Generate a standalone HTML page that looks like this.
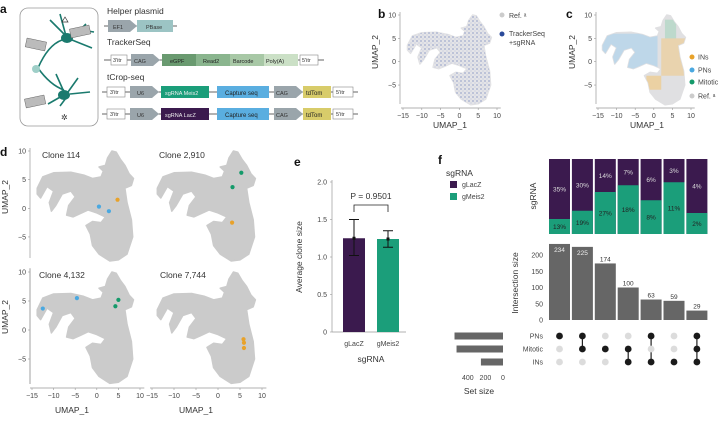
<!DOCTYPE html>
<html><head><meta charset="utf-8"><style>
body{margin:0;background:#fff;width:722px;height:419px;overflow:hidden}
svg{font-family:"Liberation Sans",sans-serif}
.t{font-size:7px;fill:#444}
.l{font-size:8.5px;fill:#333}
.p{font-size:12px;font-weight:bold;fill:#111}
</style></head><body>
<svg id="fig" width="722" height="419" viewBox="0 0 722 419" xmlns="http://www.w3.org/2000/svg">
<defs>
<pattern id="bluedots" width="4" height="4" patternUnits="userSpaceOnUse"><rect width="4" height="4" fill="#e4e4e8"/><circle cx="1" cy="1" r="0.6" fill="#3a55a8"/><circle cx="3" cy="3" r="0.4" fill="#6a80c0"/></pattern>
</defs>
<g id="pa">
<text class="p" x="0" y="13">a</text>
<rect x="20" y="8" width="78" height="118" rx="8" fill="none" stroke="#999" stroke-width="0.8"/>
<g fill="none" stroke="#1a7a6e" stroke-width="1.6">
<path d="M38 68 Q48 45 62 40"/><path d="M38 68 Q50 85 64 90"/>
<path d="M66 36 L50 20 M66 36 L60 14 M68 36 L80 30 L94 32 M72 40 L92 48 M80 30 L86 24"/>
<path d="M62 96 L48 104 M64 92 L56 74 M68 92 L78 78 M70 94 L90 92 M66 98 L60 106"/>
</g>
<circle cx="36" cy="69" r="4" fill="#9fcfc8"/>
<ellipse cx="67" cy="38" rx="6" ry="5" fill="#1a7a6e"/><ellipse cx="64" cy="95" rx="6" ry="5" fill="#1a7a6e"/>
<path d="M62 22 l3 -5 l3 5z" fill="none" stroke="#333" stroke-width="0.7"/>
<text x="61" y="120" font-size="8" fill="#333">✲</text>
<g fill="#bbb" stroke="#555" stroke-width="0.4">
<rect x="70" y="27" width="20" height="9" transform="rotate(-12 80 31)"/>
<rect x="26" y="40" width="20" height="9" transform="rotate(12 36 44)"/>
<rect x="25" y="97" width="20" height="9" transform="rotate(-12 35 101)"/>
</g>
<text class="l" x="107" y="14">Helper plasmid</text>
<line x1="104" y1="26" x2="177" y2="26" stroke="#333" stroke-width="0.8"/>
<path d="M108 20 h22 l7 6 l-7 6 h-22z" fill="#9aa5ab"/><text x="113" y="29" font-size="5.5" fill="#333">EF1</text>
<rect x="137" y="20" width="36" height="12" fill="#9cc4c4"/><text x="146" y="29" font-size="5.5" fill="#333">PBase</text>
<text class="l" x="107" y="45">TrackerSeq</text>
<line x1="104" y1="60" x2="324" y2="60" stroke="#333" stroke-width="0.8"/>
<rect x="111" y="55" width="16" height="10" fill="#fff" stroke="#888" stroke-width="0.6"/><text x="113" y="62" font-size="5.5" fill="#333">3'itr</text>
<path d="M131 54 h22 l7 6 l-7 6 h-22z" fill="#9aa5ab"/><text x="134" y="63" font-size="5.5" fill="#333">CAG</text>
<rect x="162" y="54" width="34" height="12" fill="#6a9a70"/><text x="170" y="63" font-size="5.5" fill="#222">eGPF</text>
<rect x="196" y="54" width="34" height="12" fill="#8ab58e"/><text x="203" y="63" font-size="5.5" fill="#222">Read2</text>
<rect x="230" y="54" width="34" height="12" fill="#a8c8a6"/><text x="233" y="63" font-size="5.5" fill="#222">Barcode</text>
<rect x="264" y="54" width="34" height="12" fill="#cbe0c6"/><text x="266" y="63" font-size="5.5" fill="#222">Poly(A)</text>
<rect x="300" y="55" width="18" height="10" fill="#fff" stroke="#888" stroke-width="0.6"/><text x="302" y="62" font-size="5.5" fill="#333">5'itr</text>
<text class="l" x="107" y="80">tCrop-seq</text>
<g id="row3">
<line x1="102" y1="92" x2="358" y2="92" stroke="#333" stroke-width="0.8"/>
<rect x="107" y="87" width="18" height="10" fill="#fff" stroke="#888" stroke-width="0.6"/><text x="110" y="94" font-size="5.5" fill="#333">3'itr</text>
<path d="M130 86 h22 l7 6 l-7 6 h-22z" fill="#9aa5ab"/><text x="137" y="95" font-size="5.5" fill="#333">U6</text>
<rect x="161" y="86" width="48" height="12" fill="#1b9e7a"/><text x="165" y="95" font-size="5.5" fill="#eee">sgRNA Meis2</text>
<rect x="217" y="86" width="52" height="12" fill="#5aaee0"/><text x="225" y="95" font-size="6" fill="#222">Capture seq</text>
<path d="M274 86 h22 l7 6 l-7 6 h-22z" fill="#9aa5ab"/><text x="276" y="95" font-size="5.5" fill="#333">CAG</text>
<rect x="303" y="86" width="28" height="12" fill="#d8cc6a"/><text x="306" y="95" font-size="6" fill="#222">tdTom</text>
<rect x="333" y="87" width="20" height="10" fill="#fff" stroke="#888" stroke-width="0.6"/><text x="336" y="94" font-size="5.5" fill="#333">5'itr</text>
</g>
<g transform="translate(0,22)">
<line x1="102" y1="92" x2="358" y2="92" stroke="#333" stroke-width="0.8"/>
<rect x="107" y="87" width="18" height="10" fill="#fff" stroke="#888" stroke-width="0.6"/><text x="110" y="94" font-size="5.5" fill="#333">3'itr</text>
<path d="M130 86 h22 l7 6 l-7 6 h-22z" fill="#9aa5ab"/><text x="137" y="95" font-size="5.5" fill="#333">U6</text>
<rect x="161" y="86" width="48" height="12" fill="#3b1a4e"/><text x="165" y="95" font-size="5.5" fill="#eee">sgRNA LacZ</text>
<rect x="217" y="86" width="52" height="12" fill="#5aaee0"/><text x="225" y="95" font-size="6" fill="#222">Capture seq</text>
<path d="M274 86 h22 l7 6 l-7 6 h-22z" fill="#9aa5ab"/><text x="276" y="95" font-size="5.5" fill="#333">CAG</text>
<rect x="303" y="86" width="28" height="12" fill="#d8cc6a"/><text x="306" y="95" font-size="6" fill="#222">tdTom</text>
<rect x="333" y="87" width="20" height="10" fill="#fff" stroke="#888" stroke-width="0.6"/><text x="336" y="94" font-size="5.5" fill="#333">5'itr</text>
</g>
</g>
<g id="dyn"></g>
</svg>
<script>
// ---- data ----
const umapShapeX=[-13.8,-12.5,-10,-6,-3,-1,1,1.5,0.5,2,2.5,3.5,4.5,5.5,6.5,7.5,8.5,8,6.5,7,8,8.3,7,5,3,0.5,-1,-1.5,-2.5,-1,1,2,0,-2,-4,-5.5,-7,-6.5,-5,-6,-8,-9.5,-10.5,-11,-10,-11.5,-13,-13.8];
const umapShapeY=[3.5,5.5,6.2,6.3,5.8,5.2,5.5,6.5,7.2,7.5,8.8,10,9.8,8.5,7.5,6,5.2,4,3.5,1,-2,-5,-8,-9,-9.2,-8,-6.5,-4.5,-3,-2.3,-2.5,-1.5,-0.8,-0.3,-1,-1.5,-1.2,0.5,2,3,2.5,0.5,-0.5,1,3,3.8,1.8,2.5];
const umapTicksX=[-15,-10,-5,0,5,10];
const umapTicksY=[-5,0,5,10];
const cloneNames=["Clone 114","Clone 2,910","Clone 4,132","Clone 7,744"];
const cloneX=[[0.5,2.8,4.8],[5.3,3.3,3.2],[-12.5,-4.6,5,4.3],[5.8,5.9,5.9]];
const cloneY=[[0.3,-0.5,1.5],[6.2,3.7,-2.5],[3.7,5.5,5.2,4.1],[-1.6,-2.2,-3.1]];
const cloneType=[["PN","PN","IN"],["Mit","Mit","IN"],["PN","PN","Mit","Mit"],["IN","IN","IN"]];
const eCats=["gLacZ","gMeis2"];
const eMeans=[1.25,1.24];
const eLow=[1.02,1.13];
const eHigh=[1.5,1.35];
const eTicks=[0,0.5,1.0,1.5,2.0];
const interSizes=[234,225,174,100,63,59,29];
const interTicks=[0,50,100,150,200];
const setNames=["PNs","Mitotic","INs"];
const membership=[[1,0,0],[1,1,0],[0,1,0],[0,1,1],[1,0,1],[0,0,1],[1,1,1]];
const pctLacZ=[35,30,14,7,6,3,4];
const pctMeis2=[13,19,27,18,8,11,2];
const greenShare=[0.2,0.31,0.56,0.65,0.45,0.69,0.28];
const setSizeTicks=[400,200,0];

const NS="http://www.w3.org/2000/svg";
const root=document.getElementById('dyn');
function mk(tag,attrs,parent,txt){const e=document.createElementNS(NS,tag);for(const k in attrs)e.setAttribute(k,attrs[k]);if(txt!==undefined)e.textContent=txt;(parent||root).appendChild(e);return e;}
const typeCol={PN:"#4aa8e0",IN:"#e8a22a",Mit:"#149a6a"};

function umapPanel(x0,sx,y0,sy,fill){
  const X=u=>x0+(u+15)*sx, Y=v=>y0+(10-v)*sy;
  let d="M"+umapShapeX.map((u,i)=>X(u).toFixed(1)+" "+Y(umapShapeY[i]).toFixed(1)).join(" L")+"Z";
  const g=mk('g',{});
  
  
  const p=mk('path',{d:d,fill:fill,stroke:fill,'stroke-width':1.5,'stroke-linejoin':'round'},g);
  
  
  return {X,Y,g,d};
}
function axes(X,Y,xAxisY,yAxisX,showX,showY,ylab,xlab,xlabY){
  if(showY){
    mk('line',{x1:yAxisX,y1:Y(10)-3,x2:yAxisX,y2:xAxisY-4,stroke:'#999','stroke-width':0.7});
    umapTicksY.forEach(v=>{mk('text',{class:'t',x:yAxisX-4,y:Y(v)+2.5,'text-anchor':'end'},null,v===-5?'−5':v);mk('line',{x1:yAxisX-2,x2:yAxisX,y1:Y(v),y2:Y(v),stroke:'#999','stroke-width':0.6});});
  }
  if(showX){
    mk('line',{x1:X(-15)-2,y1:xAxisY,x2:X(11),y2:xAxisY,stroke:'#999','stroke-width':0.7});
    umapTicksX.forEach(u=>{mk('line',{x1:X(u),x2:X(u),y1:xAxisY,y2:xAxisY+2,stroke:'#999','stroke-width':0.6});mk('text',{class:'t',x:X(u),y:xAxisY+10,'text-anchor':'middle'},null,u<0?'−'+(-u):u);});
  }
  if(ylab){const t=mk('text',{class:'l',x:ylab[0],y:ylab[1],'text-anchor':'middle',transform:`rotate(-90 ${ylab[0]} ${ylab[1]})`},null,'UMAP_2');}
  if(xlab){const t=mk('text',{class:'l',x:xlab,y:xlabY,'text-anchor':'middle'},null,'UMAP_1');}
}
// panel b
mk('text',{class:'p',x:378,y:18},null,'b');
let b=umapPanel(403,3.76,15,4.67,'#e2e2e4');
mk('path',{d:b.d,fill:'url(#bluedots)',opacity:0.8},b.g);
axes(b.X,b.Y,108,400,true,true,[378,52],450,128);
mk('circle',{cx:502,cy:15,r:2.5,fill:'#ccc'});mk('text',{class:'t',x:509,y:18,'font-size':7.5},null,'Ref. ᵃ');
mk('circle',{cx:502,cy:34,r:2.5,fill:'#2a4a9a'});mk('text',{class:'t',x:509,y:36},null,'TrackerSeq');mk('text',{class:'t',x:509,y:45},null,'+sgRNA');
// panel c
mk('text',{class:'p',x:566,y:18},null,'c');
let c=umapPanel(598,3.72,15,4.67,'#e0e0e2');
const cp=mk('clipPath',{id:'cclip'});mk('path',{d:c.d},cp);
const cg=mk('g',{'clip-path':'url(#cclip)'});
mk('rect',{x:c.X(-15),y:c.Y(6),width:c.X(1)-c.X(-15),height:c.Y(-1.5)-c.Y(6),fill:'#a6d0ee',opacity:0.6},cg);
mk('rect',{x:c.X(2),y:c.Y(5),width:c.X(8.5)-c.X(2),height:c.Y(-3)-c.Y(5),fill:'#f2c67a',opacity:0.5},cg);
mk('rect',{x:c.X(-2),y:c.Y(-3),width:c.X(2)-c.X(-2),height:c.Y(-6)-c.Y(-3),fill:'#f2c67a',opacity:0.6},cg);
mk('rect',{x:c.X(3),y:c.Y(9),width:c.X(6)-c.X(3),height:c.Y(5)-c.Y(9),fill:'#9ad2b6',opacity:0.5},cg);
axes(c.X,c.Y,108,596,true,true,[575,52],647,128);
[["INs","#e8a22a",57],["PNs","#4aa8e0",70],["Mitotic","#149a6a",82],["Ref. ᵃ","#ccc",96]].forEach(r=>{mk('circle',{cx:692,cy:r[2],r:2.5,fill:r[1]});mk('text',{class:'t',x:698,y:r[2]+2.5,'font-size':7.5},null,r[0]);});
// panel d
mk('text',{class:'p',x:0,y:156},null,'d');
const dPos=[[32,4.32,151,5.73],[152,4.4,151,5.73],[32,4.32,272,5.8],[152,4.4,272,5.8]];
const tpos=[[42,158],[159,158],[39,278],[160,278]];
dPos.forEach((q,i)=>{
  const pnl=umapPanel(q[0],q[1],q[2],q[3],'#cbcbcb');
  const t=mk('text',{class:'l',x:tpos[i][0],y:tpos[i][1]},null,cloneNames[i]);
  
  
  cloneX[i].forEach((u,j)=>{const d=mk('circle',{cx:pnl.X(u),cy:pnl.Y(cloneY[i][j]),r:2.1,fill:typeCol[cloneType[i][j]]});
    
    });
  axes(pnl.X,pnl.Y,388,30,i>=2,i%2===0,i%2===0?[8,i<2?197:317]:null,i>=2?(i===2?72:196):null,413);
});
mk('line',{x1:30,y1:258,x2:30,y2:268,stroke:'#fff','stroke-width':2});
// panel e
mk('text',{class:'p',x:294,y:166},null,'e');
const eY=v=>332-v*75, eX=[354,388];
mk('line',{x1:332,y1:180,x2:332,y2:332,stroke:'#999','stroke-width':0.7});
mk('line',{x1:332,y1:332,x2:406,y2:332,stroke:'#999','stroke-width':0.7});
eTicks.forEach(v=>{mk('line',{x1:330,x2:332,y1:eY(v),y2:eY(v),stroke:'#999','stroke-width':0.6});mk('text',{class:'t',x:327,y:eY(v)+2.5,'text-anchor':'end'},null,v===0?'0':v.toFixed(1));});
const ecol=['#3b1a4e','#1b9e7a'];
eCats.forEach((cat,i)=>{
  const r=mk('rect',{x:eX[i]-11,y:eY(eMeans[i]),width:22,height:eY(0)-eY(eMeans[i]),fill:ecol[i]});
  
  
  mk('line',{x1:eX[i],x2:eX[i],y1:eY(eHigh[i]),y2:eY(eLow[i]),stroke:'#111','stroke-width':1});
  mk('line',{x1:eX[i]-5,x2:eX[i]+5,y1:eY(eHigh[i]),y2:eY(eHigh[i]),stroke:'#111','stroke-width':1});
  mk('line',{x1:eX[i]-5,x2:eX[i]+5,y1:eY(eLow[i]),y2:eY(eLow[i]),stroke:'#111','stroke-width':1});
  mk('rect',{x:eX[i]-1.5,y:eY(eMeans[i])-1.5,width:3,height:3,fill:'#111'});
  mk('text',{class:'t',x:eX[i],y:346,'text-anchor':'middle'},null,cat);
});
mk('path',{d:'M354 212 V205 H388 V212',fill:'none',stroke:'#222','stroke-width':0.8});
mk('text',{class:'l',x:371,y:199,'text-anchor':'middle'},null,'P = 0.9501');
const ey=mk('text',{class:'l',x:302,y:257,'text-anchor':'middle',transform:'rotate(-90 302 257)'},null,'Average clone size');


mk('text',{class:'l',x:371,y:362,'text-anchor':'middle'},null,'sgRNA');
// panel f
mk('text',{class:'p',x:438,y:164},null,'f');
mk('text',{class:'l',x:446,y:176},null,'sgRNA');
mk('rect',{x:450,y:181,width:7,height:7,fill:'#3b1a4e'});mk('text',{class:'t',x:462,y:187},null,'gLacZ');
mk('rect',{x:450,y:193,width:7,height:7,fill:'#1b9e7a'});mk('text',{class:'t',x:462,y:199},null,'gMeis2');
const fx=i=>559.5+i*22.9, iY=v=>320-v*0.325;
const sTop=159,sBot=234;
interSizes.forEach((v,i)=>{
  mk('rect',{x:fx(i)-10.5,y:sTop,width:21,height:sBot-sTop,fill:'#3b1a4e'});
  const gh=(sBot-sTop)*greenShare[i];
  mk('rect',{x:fx(i)-10.5,y:sBot-gh,width:21,height:gh,fill:'#1b9e7a'});
  mk('text',{x:fx(i),y:(sTop+sBot-gh)/2+2.5,'font-size':6.5,fill:'#ddd','text-anchor':'middle'},null,pctLacZ[i]+'%');
  mk('text',{x:fx(i),y:sBot-gh/2+2.5,'font-size':6.5,fill:'#222','text-anchor':'middle'},null,pctMeis2[i]+'%');
  const r=mk('rect',{x:fx(i)-10.5,y:iY(v),width:21,height:iY(0)-iY(v),fill:'#666'});
  
  
  const inside=i<2;
  mk('text',{x:fx(i),y:inside?iY(v)+8:iY(v)-2,'font-size':6.5,fill:inside?'#eee':'#333','text-anchor':'middle'},null,v);
  const rows=[336,349,362];
  const act=rows.filter((r,k)=>membership[i][k]);
  if(act.length>1)mk('line',{x1:fx(i),x2:fx(i),y1:Math.min(...act),y2:Math.max(...act),stroke:'#222','stroke-width':1.2});
  rows.forEach((ry,k)=>mk('circle',{cx:fx(i),cy:ry,r:3.4,fill:membership[i][k]?'#1a1a1a':'#dcdcdc'}));
});
mk('text',{class:'l',x:536,y:196,'text-anchor':'middle',transform:'rotate(-90 536 196)'},null,'sgRNA');
interTicks.forEach(v=>mk('text',{class:'t',x:543,y:iY(v)+2.5,'text-anchor':'end'},null,v));
mk('text',{class:'l',x:518,y:283,'text-anchor':'middle',transform:'rotate(-90 518 283)'},null,'Intersection size');
const setSizes=setNames.map((n,k)=>interSizes.reduce((s,v,i)=>s+(membership[i][k]?v:0),0));
const ssX=v=>503-v*0.088;
setNames.forEach((n,k)=>{
  const ry=[336,349,362][k];
  mk('text',{class:'t',x:543,y:ry+2.5,'text-anchor':'end'},null,n);
  const r=mk('rect',{x:ssX(setSizes[k]),y:ry-3.5,width:503-ssX(setSizes[k]),height:7,fill:'#666'});
  
  
});
setSizeTicks.forEach(v=>mk('text',{class:'t',x:ssX(v),y:380,'text-anchor':'middle'},null,v));
mk('text',{class:'l',x:479,y:394,'text-anchor':'middle'},null,'Set size');
</script>
</body></html>
